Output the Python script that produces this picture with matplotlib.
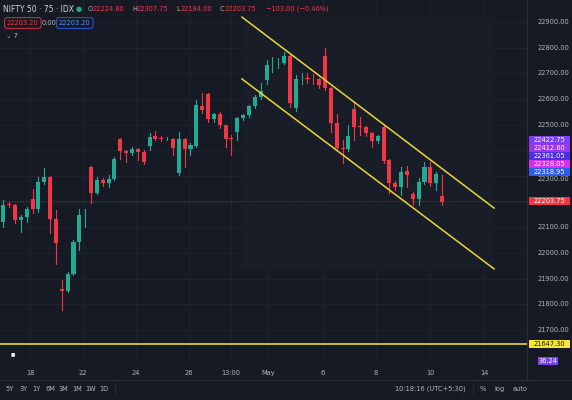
import numpy as np
import matplotlib
matplotlib.use("Agg")
import matplotlib.pyplot as plt
from matplotlib.patches import Rectangle
import matplotlib.transforms as mtransforms

# OHLC values
opens = [22121, 22190, 22186, 22128, 22141, 22209, 22173, 22277, 22297, 22134,
         21858, 21852, 21920, 22041, 22147, 22336, 22235, 22286, 22271, 22290,
         22446, 22398, 22388, 22405, 22394, 22417, 22455, 22450, 22443, 22446,
         22310, 22446, 22407, 22418, 22574, 22619, 22524, 22541, 22498, 22447,
         22473, 22527, 22537, 22572, 22609, 22674, 22731, 22739, 22739, 22768,
         22564, 22680, 22682, 22679, 22677, 22768, 22642, 22508, 22410, 22404,
         22560, 22494, 22492, 22466, 22438, 22490, 22362, 22272, 22258, 22320,
         22230, 22210, 22275, 22336, 22271, 22223]
highs = [22206, 22200, 22190, 22148, 22180, 22251, 22297, 22330, 22300, 22168,
         21894, 21925, 22050, 22173, 22173, 22340, 22297, 22292, 22304, 22375,
         22450, 22400, 22414, 22408, 22400, 22466, 22477, 22456, 22453, 22450,
         22473, 22450, 22427, 22596, 22622, 22624, 22545, 22551, 22500, 22460,
         22530, 22540, 22575, 22615, 22661, 22752, 22765, 22760, 22785, 22770,
         22693, 22700, 22700, 22698, 22682, 22798, 22645, 22540, 22440, 22499,
         22583, 22528, 22495, 22470, 22460, 22495, 22366, 22280, 22336, 22340,
         22238, 22291, 22356, 22356, 22317, 22304]
lows = [22102, 22180, 22115, 22082, 22120, 22156, 22160, 22270, 22076, 21959,
        21777, 21848, 21915, 22012, 22102, 22193, 22228, 22262, 22258, 22285,
        22368, 22356, 22382, 22362, 22348, 22400, 22440, 22438, 22440, 22382,
        22304, 22336, 22382, 22412, 22545, 22510, 22512, 22488, 22414, 22382,
        22440, 22520, 22530, 22565, 22600, 22660, 22707, 22720, 22735, 22570,
        22555, 22660, 22664, 22660, 22642, 22635, 22473, 22400, 22350, 22398,
        22440, 22460, 22455, 22414, 22430, 22352, 22233, 22245, 22226, 22258,
        22187, 22187, 22270, 22260, 22245, 22187]
closes = [22186, 22188, 22128, 22141, 22173, 22173, 22277, 22297, 22134, 22040,
          21853, 21920, 22041, 22147, 22150, 22235, 22284, 22271, 22290, 22368,
          22398, 22388, 22405, 22394, 22355, 22453, 22446, 22443, 22445, 22411,
          22446, 22407, 22420, 22576, 22557, 22522, 22541, 22498, 22443, 22445,
          22527, 22537, 22572, 22609, 22631, 22733, 22733, 22741, 22768, 22583,
          22677, 22682, 22679, 22677, 22655, 22642, 22508, 22408, 22404, 22456,
          22492, 22492, 22466, 22438, 22456, 22358, 22271, 22256, 22317, 22304,
          22209, 22275, 22336, 22271, 22306, 22200]

price_ticks = [21700, 21800, 21900, 22000, 22100, 22200, 22300, 22400, 22500,
               22600, 22700, 22800, 22900]
hidden_ticks = [22200, 22400]  # covered by the price tags
date_pos = [4.6, 13.6, 22.7, 31.7, 38.9, 45.3, 54.6, 63.7, 73.0, 82.2]
date_labels = ["18", "22", "24", "26", "13:00", "May", "6", "8", "10", "14"]

# channel lines (bar index, price)
upper_x, upper_y = [40.8, 83.9], [22919, 22175]
lower_x, lower_y = [40.8, 83.9], [22678, 21938]

last_price = 22203.75
support = 21647.30
tag_values = [22422.75, 22412.60, 22361.05, 22328.05, 22318.95]
tag_colors = ["#7e3ff2", "#9b37e6", "#4f2fe0", "#d62fe8", "#2f5be8"]
ranges = ["5Y", "3Y", "1Y", "6M", "3M", "1M", "1W", "1D"]

BG = "#161a25"
UP = "#22ab94"
DN = "#f23645"
TXT = "#b2b5be"

W, H = 572, 400
fig = plt.figure(figsize=(W / 100, H / 100), dpi=100, facecolor=BG)

def px(x0, y0, x1, y1):
    return [x0 / W, 1 - y1 / H, (x1 - x0) / W, (y1 - y0) / H]

ax = fig.add_axes(px(0, 0, 527, 362))
ax.set_facecolor(BG)
ax.set_ylim(22900 - (362 - 22) * 3.896, 22900 + 22 * 3.896)
x0_idx = -3.3 / 5.85
ax.set_xlim(x0_idx, x0_idx + 527 / 5.85)
for s in ax.spines.values():
    s.set_visible(False)
ax.set_xticks([])
ax.set_yticks([])

for p in price_ticks:
    ax.axhline(p, color="#1f2330", lw=0.7, zorder=0)
for d in date_pos:
    ax.axvline(d, color="#1f2330", lw=0.7, zorder=0)

# faint channel area
ax.add_patch(Rectangle((40.8, 21938), 43.1, 22919 - 21938, color="#191d28", zorder=0.5, lw=0))

for i in range(len(opens)):
    o, h, l, c = opens[i], highs[i], lows[i], closes[i]
    col = UP if c >= o else DN
    ax.plot([i, i], [l, h], color=col, lw=0.8, zorder=2)
    ax.add_patch(Rectangle((i - 0.35, min(o, c)), 0.7, max(abs(c - o), 2),
                           color=col, lw=0, zorder=3))

ax.plot(upper_x, upper_y, color="#e8d735", lw=1.1, zorder=4)
ax.plot(lower_x, lower_y, color="#e8d735", lw=1.1, zorder=4)
ax.axhline(last_price, color="#8a2630", lw=0.8, ls=(0, (1, 1.5)), zorder=1)
ax.axhline(support, color="#e8d735", lw=1.2, zorder=4)

# right price scale
def ypx(p):
    return 22 + (22900 - p) / 3.896

for p in price_ticks:
    if p in hidden_ticks:
        continue
    yy = ypx(p) + (3 if p == 22300 else 0)
    fig.text(569 / W, 1 - yy / H, f"{p:.2f}", ha="right", va="center",
             fontsize=4.8, color=TXT, zorder=1)

def tag(ypos, text, fc, tc="white", x0=529, w=41):
    fig.patches.append(Rectangle((x0 / W, 1 - (ypos + 4) / H), w / W, 8 / H,
                                 transform=fig.transFigure, fc=fc, ec="none", zorder=5))
    fig.text((x0 + w / 2) / W, 1 - ypos / H, text, ha="center", va="center",
             fontsize=4.8, color=tc, zorder=6)

# stacked tags are pushed apart like the screen shows
tag_y = [140, 148, 156, 164, 172]
for yy, v, c in zip(tag_y, tag_values, tag_colors):
    tag(yy, f"{v:.2f}", c)
tag(ypx(last_price), f"{last_price:.2f}", DN)
tag(ypx(support), f"{support:.2f}", "#f5e533", "#131722")
tag(361, "36.24", "#7e3ff2", x0=538, w=20)

# axis separators
fig.add_artist(plt.Line2D([527 / W, 527 / W], [1 - 380 / H, 1], color="#2a2e39", lw=0.8))
fig.add_artist(plt.Line2D([0, 1], [1 - 380 / H, 1 - 380 / H], color="#2a2e39", lw=0.8))

# time axis labels
trx = mtransforms.blended_transform_factory(ax.transData, fig.transFigure)
for d, lab in zip(date_pos, date_labels):
    ax.text(d, 1 - 373 / H, lab, transform=trx, ha="center", va="center",
            fontsize=4.8, color=TXT, clip_on=False)
fig.text(13 / W, 1 - 354 / H, "\u25AE\u25AE", ha="center", va="center", fontsize=3.5, color="white")

# header
fig.text(3 / W, 1 - 9 / H, "NIFTY 50 · 75 · IDX", fontsize=5.5, color="#d1d4dc", va="center")
fig.text(76 / W, 1 - 9 / H, "\u25CF", fontsize=5, color="#22ab94", va="center")
hx = 88
for lab, val in [("O", "22224.80"), ("H", "22307.75"), ("L", "22184.00"), ("C", "22203.75")]:
    fig.text(hx / W, 1 - 9 / H, lab, fontsize=4.8, color=TXT, va="center")
    fig.text((hx + 5) / W, 1 - 9 / H, val, fontsize=4.8, color=DN, va="center")
    hx += 44
fig.text((hx + 2) / W, 1 - 9 / H, "\u2212103.00 (\u22120.46%)", fontsize=4.8, color=DN, va="center")
fig.text(7 / W, 1 - 23 / H, "22203.20", fontsize=4.8, color=DN, va="center",
         bbox=dict(boxstyle="round,pad=0.35", fc=BG, ec=DN, lw=0.6))
fig.text(42 / W, 1 - 23 / H, "0.00", fontsize=4.8, color=TXT, va="center")
fig.text(59 / W, 1 - 23 / H, "22203.20", fontsize=4.8, color="#5b8cff", va="center",
         bbox=dict(boxstyle="round,pad=0.35", fc=BG, ec="#2962ff", lw=0.6))
fig.text(6 / W, 1 - 36 / H, "\u2304 7", fontsize=4.8, color=TXT, va="center")

# bottom toolbar
for k, lab in enumerate(ranges):
    fig.text((10 + k * 13.4) / W, 1 - 389 / H, lab, fontsize=4.8, color=TXT,
             va="center", ha="center")
fig.add_artist(plt.Line2D([115 / W, 115 / W], [1 - 395 / H, 1 - 383 / H], color="#2a2e39", lw=0.6))
fig.text(466 / W, 1 - 389 / H, "10:18:16 (UTC+5:30)", fontsize=4.8, color=TXT, va="center", ha="right")
fig.add_artist(plt.Line2D([473 / W, 473 / W], [1 - 395 / H, 1 - 383 / H], color="#2a2e39", lw=0.6))
fig.text(480 / W, 1 - 389 / H, "%", fontsize=4.8, color=TXT, va="center")
fig.text(494 / W, 1 - 389 / H, "log", fontsize=4.8, color=TXT, va="center")
fig.text(513 / W, 1 - 389 / H, "auto", fontsize=4.8, color=TXT, va="center")

fig.savefig("out.png", dpi=100, facecolor=BG)
